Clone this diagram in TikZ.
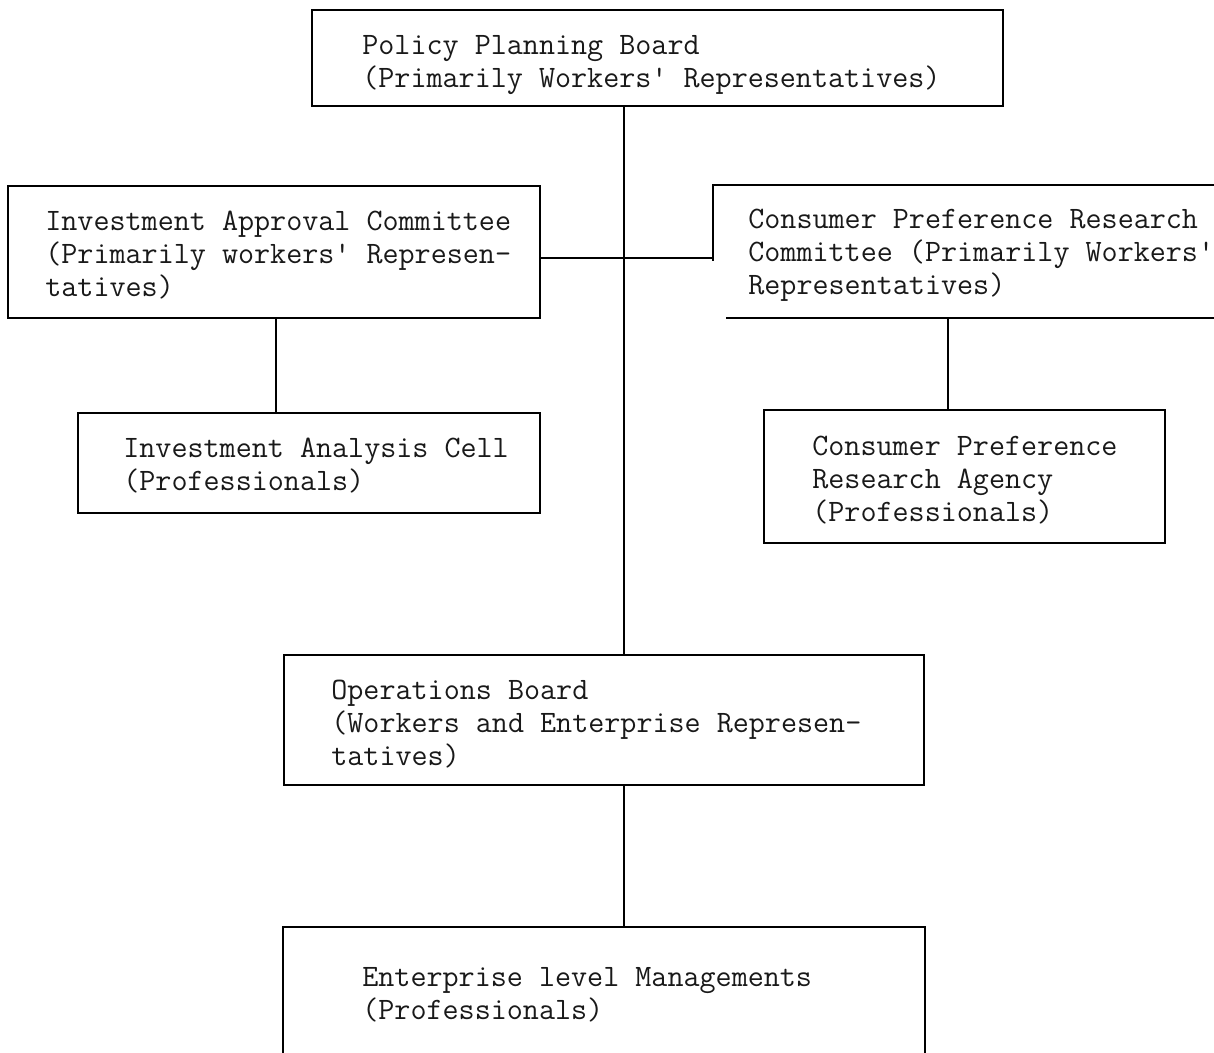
\documentclass[tikz,border=0pt]{standalone}
\usetikzlibrary{fit}
\begin{document}
\begin{tikzpicture}[x=0.02cm,y=-0.02cm,
  box/.style={inner sep=0pt, line width=1.1pt},
  txt/.style={anchor=north west, inner sep=0pt, align=left, text=black!90,
    font=\ttfamily\fontsize{17.75}{18.8}\selectfont},
  conn/.style={line width=1.1pt}]
\useasboundingbox (0,0) rectangle (1214,1053);
\clip (0,0) rectangle (1214,1053);
% boxes
\node[box, draw, fit={(312,10) (1003,106)}] (pp) {};
\node[box, draw, fit={(8,186) (540,318)}] (iac) {};
\node[box, fit={(714,186) (1240,317)}] (cprc) {};
\draw[box] (cprc.north east) -- (cprc.north west) -- ([yshift=-1.52cm]cprc.north west);
\draw[box] ([xshift=0.26cm]cprc.south west) -- (cprc.south east);
\node[box, draw, fit={(78,413) (540,513)}] (cell) {};
\node[box, draw, fit={(764,410) (1165,543)}] (agency) {};
\node[box, draw, fit={(284,655) (924,785)}] (ob) {};
\node[box, fit={(284,928) (924,1070)}] (ent) {};
\draw[box] (ent.south west) -- (ent.north west) -- (ent.north east) -- (ent.south east);
% texts
\node[txt] (t1) at (362,35) {Policy Planning Board\\(Primarily Workers' Representatives)};
\node[txt] (t2) at (45,211) {Investment Approval Committee\\(Primarily workers' Represen-\\tatives)};
\node[txt] (t3) at (748,209) {Consumer Preference Research\\Committee (Primarily Workers'\\Representatives)};
\node[txt] (t4) at (123,438) {Investment Analysis Cell\\(Professionals)};
\node[txt] (t5) at (812,436) {Consumer Preference\\Research Agency\\(Professionals)};
\node[txt] (t6) at (331,680) {Operations Board\\(Workers and Enterprise Represen-\\tatives)};
\node[txt] (t7) at (362,967) {Enterprise level Managements\\(Professionals)};
% connector coordinates
\coordinate (spine) at (624,258);
\coordinate (lx) at (276,0);
\coordinate (rx) at (948,0);
% connectors
\draw[conn] (pp.south -| spine) -- (ob.north -| spine);
\draw[conn] (iac.east |- spine) -- (cprc.west |- spine);
\draw[conn] (iac.south -| lx) -- (cell.north -| lx);
\draw[conn] (cprc.south -| rx) -- (agency.north -| rx);
\draw[conn] (ob.south -| spine) -- (ent.north -| spine);
\end{tikzpicture}
\end{document}
